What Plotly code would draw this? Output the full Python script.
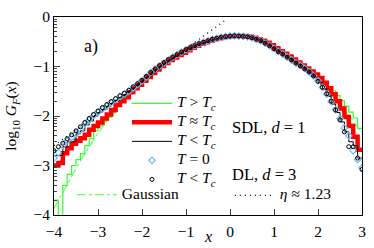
import numpy as np
import plotly.graph_objects as go

# histogram bins (left edges) and marker positions
bin_left = np.round(np.arange(-4.0, 2.95, 0.1), 1)
x_pts = np.round(np.arange(-4.0, 3.05, 0.1), 1)

# log10 G_F(x)
sdl_above = [-3.70, -4.50, -3.40, -3.18, -3.00, -2.88, -2.76, -2.60, -2.45, -2.30,
             -2.20, -2.12, -2.03, -1.93, -1.80, -1.69, -1.58, -1.50, -1.43, -1.36,
             -1.26, -1.19, -1.12, -1.06, -1.00, -0.94, -0.88, -0.83, -0.78, -0.73,
             -0.68, -0.63, -0.59, -0.55, -0.52, -0.49, -0.46, -0.44, -0.42, -0.41,
             -0.40, -0.395, -0.40, -0.405, -0.415, -0.435, -0.465, -0.50, -0.545, -0.595,
             -0.655, -0.715, -0.77, -0.83, -0.89, -0.95, -1.01, -1.07, -1.13, -1.20,
             -1.27, -1.34, -1.41, -1.49, -1.59, -1.69, -1.80, -1.92, -2.04, -2.25]
sdl_crit = [-3.00, -2.95, -2.75, -2.65, -2.56, -2.50, -2.45, -2.38, -2.28, -2.20,
            -2.13, -2.05, -1.97, -1.88, -1.78, -1.70, -1.62, -1.52, -1.44, -1.37,
            -1.29, -1.21, -1.13, -1.06, -0.99, -0.93, -0.87, -0.82, -0.77, -0.72,
            -0.67, -0.62, -0.58, -0.54, -0.51, -0.48, -0.45, -0.43, -0.41, -0.40,
            -0.39, -0.385, -0.385, -0.39, -0.40, -0.42, -0.45, -0.48, -0.52, -0.57,
            -0.63, -0.69, -0.74, -0.80, -0.86, -0.92, -0.98, -1.04, -1.10, -1.16,
            -1.23, -1.33, -1.44, -1.56, -1.70, -1.85, -2.02, -2.20, -2.42, -2.68]
sdl_below = [-2.80, -2.80, -2.62, -2.52, -2.52, -2.36, -2.30, -2.18, -2.10, -2.00,
             -1.93, -1.87, -1.80, -1.74, -1.68, -1.62, -1.56, -1.50, -1.43, -1.36,
             -1.29, -1.21, -1.13, -1.06, -0.99, -0.93, -0.87, -0.82, -0.77, -0.72,
             -0.67, -0.62, -0.58, -0.54, -0.51, -0.48, -0.45, -0.43, -0.41, -0.40,
             -0.39, -0.385, -0.39, -0.395, -0.405, -0.425, -0.455, -0.49, -0.535, -0.585,
             -0.645, -0.705, -0.76, -0.82, -0.88, -0.94, -1.00, -1.06, -1.13, -1.21,
             -1.32, -1.45, -1.60, -1.76, -1.93, -2.12, -2.32, -2.52, -2.60, -2.85]
sdl_zero = [-2.85, -2.74, -2.60, -2.50, -2.43, -2.36, -2.28, -2.16, -2.08, -1.99,
            -1.92, -1.86, -1.80, -1.73, -1.67, -1.61, -1.56, -1.50, -1.43, -1.36,
            -1.29, -1.21, -1.12, -1.05, -0.99, -0.93, -0.87, -0.81, -0.76, -0.71,
            -0.66, -0.62, -0.58, -0.54, -0.51, -0.48, -0.45, -0.43, -0.41, -0.395,
            -0.385, -0.38, -0.385, -0.39, -0.40, -0.42, -0.45, -0.48, -0.53, -0.58,
            -0.64, -0.70, -0.75, -0.81, -0.87, -0.93, -0.98, -1.04, -1.11, -1.19,
            -1.29, -1.42, -1.56, -1.71, -1.87, -2.05, -2.24, -2.40, -2.70, -2.88,
            -3.05]
dl_below = [-2.70, -2.62, -2.55, -2.46, -2.38, -2.30, -2.22, -2.13, -2.05, -1.97,
            -1.90, -1.83, -1.77, -1.71, -1.65, -1.59, -1.54, -1.48, -1.41, -1.35,
            -1.28, -1.20, -1.12, -1.05, -0.98, -0.92, -0.86, -0.81, -0.76, -0.71,
            -0.66, -0.62, -0.58, -0.54, -0.51, -0.48, -0.45, -0.43, -0.41, -0.395,
            -0.385, -0.38, -0.385, -0.39, -0.40, -0.42, -0.45, -0.48, -0.53, -0.58,
            -0.64, -0.70, -0.75, -0.81, -0.87, -0.93, -0.99, -1.05, -1.11, -1.19,
            -1.30, -1.42, -1.55, -1.70, -1.88, -2.08, -2.32, -2.62, -2.62, -2.85,
            -3.08]

x_gauss = [-4.0, -3.75, -3.5, -3.25, -3.0, -2.75, -2.5, -2.25, -2.0, -1.75, -1.5, -1.25, -1.0,
           -0.75, -0.5, -0.25, 0.0, 0.25, 0.5, 0.75, 1.0, 1.25, 1.5, 1.75, 2.0, 2.25, 2.5, 2.75, 3.0]
gauss = [-3.87, -3.45, -3.06, -2.69, -2.35, -2.04, -1.76, -1.50, -1.27, -1.06, -0.89, -0.74, -0.62,
         -0.52, -0.45, -0.41, -0.40, -0.41, -0.45, -0.52, -0.62, -0.74, -0.89, -1.06, -1.27,
         -1.50, -1.76, -2.04, -2.35]

x_eta = [-4.0, -0.1]
eta = [-2.60, -0.06]

FONT = "Liberation Serif, Times New Roman, serif"


def steps(vals):
    # close the last bin at x = 3
    xs = np.append(bin_left, 3.0)
    ys = np.power(10.0, np.append(vals, vals[-1]))
    return xs, ys


def leg(txt):
    # legend rows are spaced by legend.font.size, text drawn a bit larger
    return '<span style="font-size:15.5px">' + txt + '</span>'


fig = go.Figure()

fig.add_trace(go.Scatter(x=x_gauss, y=np.power(10.0, gauss), mode='lines',
                         line=dict(color='#66ff66', width=1.2, dash='dashdot'),
                         name=leg('Gaussian'), legend='legend2'))

xs, ys = steps(sdl_above)
fig.add_trace(go.Scatter(x=xs, y=ys, mode='lines', line_shape='hv',
                         line=dict(color='#33ff33', width=1.2),
                         name=leg('<i>T</i> > <i>T<sub>c</sub></i>')))
xs, ys = steps(sdl_crit)
fig.add_trace(go.Scatter(x=xs, y=ys, mode='lines', line_shape='hv',
                         line=dict(color='#ff0000', width=4.5),
                         name=leg('<i>T</i> ≈ <i>T<sub>c</sub></i>')))
xs, ys = steps(sdl_below)
fig.add_trace(go.Scatter(x=xs, y=ys, mode='lines', line_shape='hv',
                         line=dict(color='black', width=1),
                         name=leg('<i>T</i> < <i>T<sub>c</sub></i>')))

fig.add_trace(go.Scatter(x=x_pts, y=np.power(10.0, sdl_zero), mode='markers',
                         marker=dict(symbol='diamond-open', size=5, color='#74b9f0',
                                     line=dict(width=1.2, color='#74b9f0')),
                         name=leg('<i>T</i> = 0')))
fig.add_trace(go.Scatter(x=x_pts, y=np.power(10.0, dl_below), mode='markers',
                         marker=dict(symbol='circle-open', size=4, color='black',
                                     line=dict(width=1, color='black')),
                         name=leg('<i>T</i> < <i>T<sub>c</sub></i>')))

fig.add_trace(go.Scatter(x=x_eta, y=np.power(10.0, eta), mode='lines',
                         line=dict(color='black', width=1.3, dash='1px,4px'),
                         name=leg('<i>η</i> ≈ 1.23'), legend='legend3'))

minor_vals = [k * 10.0 ** n for n in range(-4, 0) for k in range(2, 10)]

fig.update_layout(
    width=374, height=248,
    margin=dict(l=54, r=8, t=8, b=31),
    paper_bgcolor='white', plot_bgcolor='white',
    font=dict(family=FONT, size=15, color='black'),
    xaxis=dict(range=[-4, 3], dtick=1, ticks='inside', ticklen=6, showgrid=False,
               zeroline=False, showline=True, mirror=True, linecolor='black', linewidth=1,
               tickfont=dict(family=FONT, size=15.5), ticklabelstandoff=2),
    yaxis=dict(type='log', range=[-4, 0], tickmode='array',
               tickvals=[1e-4, 1e-3, 1e-2, 1e-1, 1],
               ticktext=['−4', '−3', '−2', '−1', '0'],
               tickfont=dict(family=FONT, size=15.5),
               ticks='inside', ticklen=6, showgrid=False, zeroline=False,
               showline=True, mirror=True, linecolor='black', linewidth=1,
               minor=dict(ticks='inside', ticklen=3, tickmode='array', tickvals=minor_vals,
                          showgrid=False),
               title=dict(text='log<sub>10</sub> <i>G<sub>F</sub></i>(<i>x</i>)', standoff=12,
                          font=dict(family=FONT, size=15.5))),
    showlegend=True,
    legend=dict(x=0.237, y=0.637, xanchor='left', yanchor='top', bgcolor='rgba(0,0,0,0)',
                font=dict(family=FONT, size=10), itemwidth=40, tracegroupgap=0),
    legend2=dict(x=0.058, y=0.176, xanchor='left', yanchor='top', bgcolor='rgba(0,0,0,0)',
                 font=dict(family=FONT, size=10), itemwidth=40),
    legend3=dict(x=0.571, y=0.172, xanchor='left', yanchor='top', bgcolor='rgba(0,0,0,0)',
                 font=dict(family=FONT, size=10), itemwidth=40),
)

fig.add_annotation(text='a)', xref='paper', yref='paper', x=0.119, y=0.852,
                   xanchor='center', yanchor='middle', showarrow=False,
                   font=dict(family=FONT, size=18))
fig.add_annotation(text='SDL, <i>d</i> = 1', xref='paper', yref='paper', x=0.571, y=0.44,
                   xanchor='left', yanchor='middle', showarrow=False,
                   font=dict(family=FONT, size=16.5))
fig.add_annotation(text='DL, <i>d</i> = 3', xref='paper', yref='paper', x=0.571, y=0.205,
                   xanchor='left', yanchor='middle', showarrow=False,
                   font=dict(family=FONT, size=16.5))
fig.add_annotation(text='<i>x</i>', xref='paper', yref='paper', x=0.5, y=0,
                   yanchor='middle', yshift=-21, showarrow=False, font=dict(family=FONT, size=16))

# drop the default page margin so the figure sits at the window corner
fig.write_html("out.html", config={'displayModeBar': False},
               post_script="document.body.style.margin='0';document.body.style.overflow='hidden';")
